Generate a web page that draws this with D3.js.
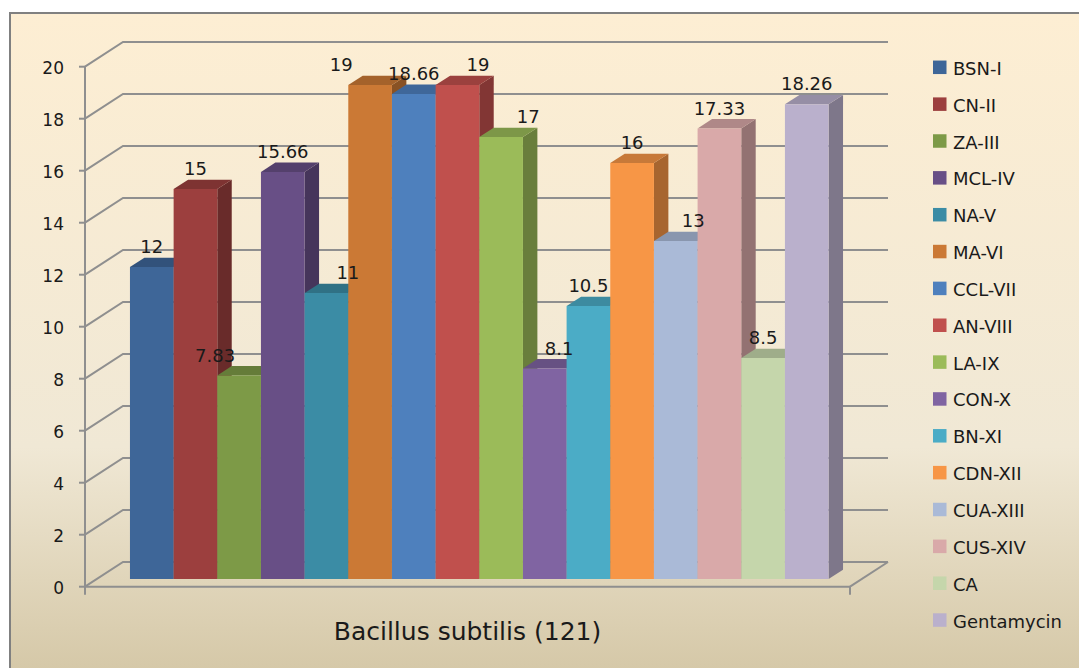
<!DOCTYPE html>
<html>
<head>
<meta charset="utf-8">
<script src="https://cdn.jsdelivr.net/npm/d3@7"></script>
<style>
  html, body { margin: 0; padding: 0; background: #ffffff; }
  svg { display: block; }
  text { font-family: "DejaVu Sans", sans-serif; fill: #1a1a1a; }
</style>
</head>
<body>
<svg id="chart" width="1079" height="668"></svg>
<script>
// Inhibition zone (mm) against Bacillus subtilis (121)
const series = ["BSN-I", "CN-II", "ZA-III", "MCL-IV", "NA-V", "MA-VI", "CCL-VII", "AN-VIII",
                "LA-IX", "CON-X", "BN-XI", "CDN-XII", "CUA-XIII", "CUS-XIV", "CA", "Gentamycin"];
const values = [12, 15, 7.83, 15.66, 11, 19, 18.66, 19, 17, 8.1, 10.5, 16, 13, 17.33, 8.5, 18.26];
const seriesColors = ["#3e6698", "#9c3f3e", "#7d9a47", "#684f86", "#3b8ca5", "#cb7935", "#4e80bd", "#c0504d",
                      "#9bbb59", "#8064a2", "#4bacc6", "#f79646", "#aabad7", "#d9a9a9", "#c5d6ab", "#bab0cc"];
const yTicks = [0, 2, 4, 6, 8, 10, 12, 14, 16, 18, 20];
const categoryTitle = "Bacillus subtilis (121)";
// sideways nudge of some value labels (in column widths) so they clear neighbouring columns
const labelShift = [0, 0, -0.55, 0, 0.49, -0.66, 0, 0.47, 0.62, 0.33, 0, 0, 0.4, 0, 0, 0];

const svg = d3.select("#chart");

// ---- chart area background ----
const defs = svg.append("defs");
const grad = defs.append("linearGradient").attr("id", "bg").attr("x1", 0).attr("y1", 0).attr("x2", 0).attr("y2", 1);
grad.append("stop").attr("offset", "0%").attr("stop-color", "#fdeed3");
grad.append("stop").attr("offset", "62%").attr("stop-color", "#f0e8d5");
grad.append("stop").attr("offset", "100%").attr("stop-color", "#d0c29f");
svg.append("rect").attr("x", 10).attr("y", 13).attr("width", 1100).attr("height", 700)
  .attr("fill", "url(#bg)").attr("stroke", "#808080").attr("stroke-width", 2);

// ---- 3-D plot geometry ----
const front = { left: 85, right: 850 };
const depth = { dx: 38, dy: 24.7 };       // projection of the full floor depth
const barZ = [0.31, 0.69];                 // columns sit in the middle of the floor

const y = d3.scaleLinear().domain([0, 20]).range([586.7, 66.7]);
const x = d3.scaleBand().domain(series).range([front.left, front.right])
  .paddingInner(0).paddingOuter(0.76);

// project a point (front-plane x, value, depth fraction) to the screen
const proj = (xf, v, z) => [xf + z * depth.dx, y(v) - z * depth.dy];

const gridColor = "#8f8f8f";
const grid = svg.append("g").attr("stroke", gridColor).attr("stroke-width", 2).attr("fill", "none");

// back wall gridlines and side wall diagonals
yTicks.forEach(t => {
  const a = proj(front.left, t, 0), b = proj(front.left, t, 1), c = proj(front.right, t, 1);
  grid.append("path").attr("d", `M${a[0]},${a[1]}L${b[0]},${b[1]}L${c[0]},${c[1]}`);
});
// floor right edge
{
  const a = proj(front.right, 0, 0), b = proj(front.right, 0, 1);
  grid.append("path").attr("d", `M${a[0]},${a[1]}L${b[0]},${b[1]}`);
}

// ---- columns (left to right so later columns cover earlier side faces) ----
const bars = svg.append("g");
series.forEach((s, i) => {
  const v = values[i];
  const x0 = x(s), x1 = x(s) + x.bandwidth();
  const col = d3.color(seriesColors[i]);
  const topCol = col.darker(0.6).formatHex();
  const sideCol = col.darker(1.1).formatHex();
  const pts = (arr) => arr.map(p => p.join(",")).join(" ");
  // side face
  bars.append("polygon").attr("fill", sideCol).attr("points", pts([
    proj(x1, 0, barZ[0]), proj(x1, 0, barZ[1]), proj(x1, v, barZ[1]), proj(x1, v, barZ[0])
  ]));
  // top face
  bars.append("polygon").attr("fill", topCol).attr("points", pts([
    proj(x0, v, barZ[0]), proj(x0, v, barZ[1]), proj(x1, v, barZ[1]), proj(x1, v, barZ[0])
  ]));
  // front face
  bars.append("polygon").attr("fill", col.formatHex()).attr("points", pts([
    proj(x0, 0, barZ[0]), proj(x1, 0, barZ[0]), proj(x1, v, barZ[0]), proj(x0, v, barZ[0])
  ]));
});

// ---- axes ----
const axes = svg.append("g").attr("stroke", gridColor).attr("stroke-width", 2).attr("fill", "none");
axes.append("line").attr("x1", front.left).attr("x2", front.left).attr("y1", y(20)).attr("y2", y(0) + 8);
axes.append("line").attr("x1", front.left).attr("x2", front.right).attr("y1", y(0)).attr("y2", y(0));
axes.append("line").attr("x1", front.right).attr("x2", front.right).attr("y1", y(0)).attr("y2", y(0) + 8);
yTicks.forEach(t => {
  axes.append("line").attr("x1", front.left - 6).attr("x2", front.left).attr("y1", y(t)).attr("y2", y(t));
});

svg.append("g").selectAll("text").data(yTicks).join("text")
  .attr("x", 64).attr("y", d => y(d) + 1)
  .attr("text-anchor", "end").attr("dominant-baseline", "central")
  .attr("font-size", 17).text(d => d);

// ---- value labels ----
svg.append("g").selectAll("text").data(series).join("text")
  .attr("x", (s, i) => proj(x(s) + x.bandwidth() / 2, 0, barZ[0])[0] + labelShift[i] * x.step())
  .attr("y", (s, i) => proj(0, values[i], barZ[1])[1] - 4.5)
  .attr("text-anchor", "middle").attr("font-size", 18)
  .text((s, i) => values[i]);

// ---- category title ----
svg.append("text").attr("x", 467.5).attr("y", 640).attr("text-anchor", "middle")
  .attr("font-size", 25).text(categoryTitle);

// ---- legend ----
const legend = svg.append("g");
const rowY = i => 67.3 + i * 36.85;
legend.selectAll("rect").data(series).join("rect")
  .attr("x", 933).attr("y", (s, i) => rowY(i) - 6.75)
  .attr("width", 13.5).attr("height", 13.5)
  .attr("fill", (s, i) => seriesColors[i]);
legend.selectAll("text").data(series).join("text")
  .attr("x", 953).attr("y", (s, i) => rowY(i) + 1)
  .attr("dominant-baseline", "central").attr("font-size", 18)
  .text(s => s);
</script>
</body>
</html>
